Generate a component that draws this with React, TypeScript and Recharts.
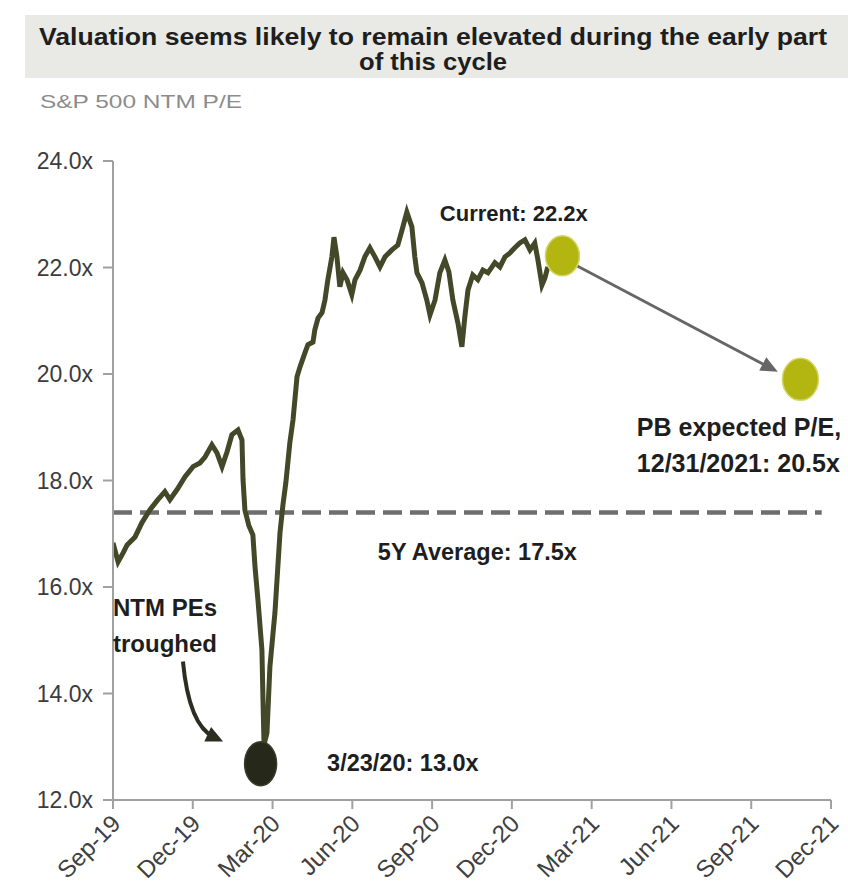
import React from 'react';
import { LineChart, Line, XAxis, YAxis, ReferenceLine, ReferenceDot } from 'recharts';

// months since Sep-2019
const monthIdx = [
  0.0, 0.19, 0.38, 0.53, 0.83, 1.09, 1.39, 1.69, 1.95, 2.14, 2.41, 2.71, 3.01, 3.27, 3.46, 3.72, 3.91, 4.1, 4.29, 4.47,
  4.7, 4.85, 4.89, 4.96, 5.11, 5.26, 5.34, 5.45, 5.6, 5.64, 5.68, 5.79, 5.9, 6.09, 6.28, 6.39, 6.5, 6.65, 6.77, 6.92,
  7.03, 7.22, 7.33, 7.52, 7.59, 7.71, 7.86, 7.97, 8.08, 8.23, 8.31, 8.42, 8.53, 8.65, 8.8, 8.98, 9.1, 9.29, 9.47, 9.66,
  9.85, 10.04, 10.23, 10.49, 10.71, 10.9, 11.05, 11.24, 11.35, 11.43, 11.62, 11.8, 11.92, 12.11, 12.29, 12.48, 12.63, 12.78, 12.97, 13.12,
  13.23, 13.35, 13.53, 13.72, 13.91, 14.1, 14.36, 14.55, 14.74, 14.92, 15.11, 15.3, 15.49, 15.68, 15.86, 15.98, 16.13, 16.24, 16.35,
];
const peValues = [
  16.83, 16.47, 16.64, 16.79, 16.94, 17.21, 17.45, 17.64, 17.79, 17.64, 17.83, 18.07, 18.26, 18.33, 18.44, 18.67, 18.52, 18.26, 18.54, 18.86,
  18.95, 18.76, 18.01, 17.45, 17.15, 16.98, 16.38, 15.76, 14.82, 13.88, 13.04, 13.26, 14.5, 15.52, 17.02, 17.54, 17.96, 18.71, 19.14, 19.95,
  20.13, 20.4, 20.55, 20.6, 20.83, 21.05, 21.15, 21.39, 21.77, 22.2, 22.57, 22.2, 21.64, 21.9, 21.77, 21.49, 21.77, 21.95, 22.2, 22.37,
  22.2, 22.01, 22.2, 22.33, 22.42, 22.76, 23.04, 22.76, 22.2, 21.9, 21.71, 21.39, 21.11, 21.39, 21.9, 22.14, 21.92, 21.39, 20.96, 20.51,
  21.07, 21.58, 21.86, 21.77, 21.95, 21.9, 22.09, 22.01, 22.2, 22.27, 22.37, 22.46, 22.52, 22.33, 22.46, 22.14, 21.67, 21.8, 22.01,
];

const xTickMonths = [0, 3, 6, 9, 12, 15, 18, 21, 24, 27];
const xTickLabels = ['Sep-19', 'Dec-19', 'Mar-20', 'Jun-20', 'Sep-20', 'Dec-20', 'Mar-21', 'Jun-21', 'Sep-21', 'Dec-21'];
const yTicks = [12, 14, 16, 18, 20, 22, 24];

const avg5y = 17.4;
const avgEndMonth = 26.65;
const currentPoint = { m: 16.9, v: 22.22 };
const expectedPoint = { m: 25.85, v: 19.9 };
const troughPoint = { m: 5.55, v: 12.68 };
const arrowStart = { m: 17.37, v: 22.05 };
const arrowEnd = { m: 25.0, v: 20.04 };
const curveStart = { m: 2.63, v: 14.6 };
const curveEnd = { m: 4.14, v: 13.1 };

const titleText = ['Valuation seems likely to remain elevated during the early part', 'of this cycle'];
const subtitleText = 'S&P 500 NTM P/E';

const FONT = '"Liberation Sans", Arial, sans-serif';

const data = monthIdx.map((m, i) => ({ m, pe: peValues[i] }));

const XTick = (props: any) => {
  const { x, y, payload } = props;
  const idx = xTickMonths.indexOf(payload.value);
  const label = idx >= 0 ? xTickLabels[idx] : '';
  const tx = x + 9;
  const ty = y + 14;
  return (
    <text x={tx} y={ty} transform={`rotate(-45 ${tx} ${ty})`} textAnchor="end" fontSize={24} fill="#404040" fontFamily={FONT}>
      {label}
    </text>
  );
};

const arrowHead = (x: number, y: number, ang: number, len: number, half: number, color: string) => {
  const bx = x - len * Math.cos(ang);
  const by = y - len * Math.sin(ang);
  const px = -Math.sin(ang) * half;
  const py = Math.cos(ang) * half;
  return <polygon points={`${x},${y} ${bx + px},${by + py} ${bx - px},${by - py}`} fill={color} />;
};

const StraightArrow = (p: any) => {
  const { x1, y1, x2, y2 } = p;
  const ang = Math.atan2(y2 - y1, x2 - x1);
  const ex = x2 - 12 * Math.cos(ang);
  const ey = y2 - 12 * Math.sin(ang);
  return (
    <g>
      <line x1={x1} y1={y1} x2={ex} y2={ey} stroke="#666666" strokeWidth={2.8} />
      {arrowHead(x2, y2, ang, 17, 7.5, '#666666')}
    </g>
  );
};

const CurvedArrow = (p: any) => {
  const { x1, y1, x2, y2 } = p;
  const cx = x1 + 0.15 * (x2 - x1);
  const cy = y1 + 0.8 * (y2 - y1);
  const ang = Math.atan2(y2 - cy, x2 - cx);
  const ex = x2 - 10 * Math.cos(ang);
  const ey = y2 - 10 * Math.sin(ang);
  return (
    <g>
      <path d={`M${x1},${y1} Q${cx},${cy} ${ex},${ey}`} fill="none" stroke="#2c2e22" strokeWidth={4} />
      {arrowHead(x2, y2, ang, 17, 8, '#2c2e22')}
    </g>
  );
};

const annot = (key: string, m: number, v: number, lines: string[], size: number, lh: number) => (
  <ReferenceDot
    key={key}
    x={m}
    y={v}
    r={0}
    ifOverflow="visible"
    shape={(p: any) => (
      <text x={p.cx} y={p.cy} fontSize={size} fontWeight="bold" fill="#1e1e1e" fontFamily={FONT}>
        {lines.map((t, i) => (
          <tspan key={i} x={p.cx} dy={i === 0 ? 0 : lh}>
            {t}
          </tspan>
        ))}
      </text>
    )}
  />
);

const ellipseDot = (key: string, pt: { m: number; v: number }, rx: number, ry: number, fill: string, stroke: string) => (
  <ReferenceDot
    key={key}
    x={pt.m}
    y={pt.v}
    r={rx}
    ifOverflow="visible"
    shape={(p: any) => <ellipse cx={p.cx} cy={p.cy} rx={rx} ry={ry} fill={fill} stroke={stroke} strokeWidth={1.5} />}
  />
);

export default function App() {
  return (
    <div style={{ position: 'absolute', left: 0, top: 0, width: 848, height: 893, background: '#ffffff', fontFamily: FONT }}>
      <svg width={848} height={120} style={{ position: 'absolute', left: 0, top: 0 }}>
        <rect x={25} y={15} width={823} height={63} fill="#e9e9e5" />
        <text x={433} y={45} textAnchor="middle" fontSize={24} fontWeight="bold" fill="#1e1e1e" fontFamily={FONT} textLength={788} lengthAdjust="spacingAndGlyphs">
          {titleText[0]}
        </text>
        <text x={433} y={70} textAnchor="middle" fontSize={24} fontWeight="bold" fill="#1e1e1e" fontFamily={FONT} textLength={148} lengthAdjust="spacingAndGlyphs">
          {titleText[1]}
        </text>
        <text x={40} y={108} fontSize={19} fill="#8c8c8c" fontFamily={FONT} textLength={202} lengthAdjust="spacingAndGlyphs">
          {subtitleText}
        </text>
      </svg>
      <div style={{ position: 'absolute', left: 0, top: 0 }}>
        <LineChart width={848} height={893} data={data} margin={{ top: 161, right: 17, bottom: 0, left: 0 }}>
          <XAxis
            dataKey="m"
            type="number"
            domain={[0, 27]}
            ticks={xTickMonths}
            interval={0}
            height={93}
            stroke="#a0a0a0"
            strokeWidth={2}
            tickSize={9}
            tickMargin={2}
            tick={<XTick />}
            allowDataOverflow
          />
          <YAxis
            type="number"
            domain={[12, 24]}
            ticks={yTicks}
            interval={0}
            width={113}
            stroke="#a0a0a0"
            strokeWidth={2}
            tickSize={10}
            tickMargin={10}
            tickFormatter={(v: number) => `${v.toFixed(1)}x`}
            tick={{ fill: '#3c3c3c', fontSize: 23, fontFamily: FONT }}
          />
          <ReferenceLine
            segment={[{ x: 0, y: avg5y }, { x: avgEndMonth, y: avg5y }]}
            stroke="#6e6e6e"
            strokeWidth={4.5}
            strokeDasharray="19 8"
            ifOverflow="visible"
          />
          <Line type="linear" dataKey="pe" stroke="#434829" strokeWidth={5} dot={false} isAnimationActive={false} />
          <ReferenceLine
            segment={[{ x: arrowStart.m, y: arrowStart.v }, { x: arrowEnd.m, y: arrowEnd.v }]}
            ifOverflow="visible"
            shape={StraightArrow}
          />
          <ReferenceLine
            segment={[{ x: curveStart.m, y: curveStart.v }, { x: curveEnd.m, y: curveEnd.v }]}
            ifOverflow="visible"
            shape={CurvedArrow}
          />
          {ellipseDot('cur', currentPoint, 17, 20, '#b3b511', '#d4d66a')}
          {ellipseDot('exp', expectedPoint, 18, 21, '#b3b511', '#d4d66a')}
          {ellipseDot('tr', troughPoint, 16, 22, '#26281a', '#3a3c2a')}
          {annot('a1', 12.29, 22.87, ['Current: 22.2x'], 22, 36)}
          {annot('a2', 19.7, 18.84, ['PB expected P/E,', '12/31/2021: 20.5x'], 25, 36)}
          {annot('a3', 9.96, 16.51, ['5Y Average: 17.5x'], 23.5, 36)}
          {annot('a4', 0, 15.46, ['NTM PEs', 'troughed'], 24, 36)}
          {annot('a5', 8.05, 12.55, ['3/23/20: 13.0x'], 23.5, 36)}
        </LineChart>
      </div>
    </div>
  );
}
